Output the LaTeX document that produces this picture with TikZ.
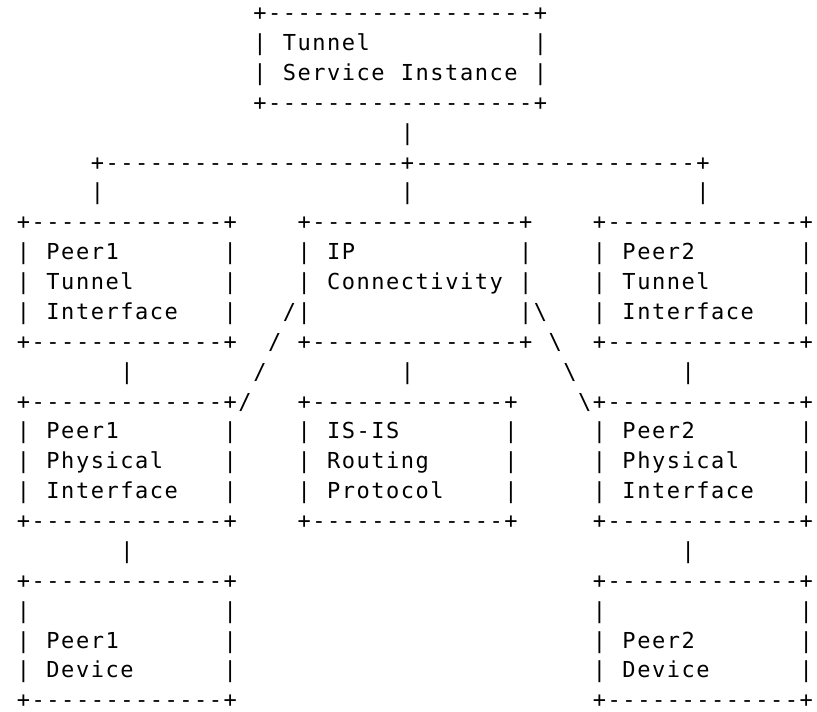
\documentclass[tikz,border=0pt]{standalone}
\usepackage{fontspec}
\newfontfamily\ascfont{DejaVu Sans Mono}
\newlength\ascw
\setlength\ascw{14.77pt}
\def\ascstop{\ascstop}
\def\ascB#1{\ifx#1.\else\ifx#1!\textbackslash\else#1\fi\fi}
\def\ascA#1{\ifx#1\ascstop\else\hbox to\ascw{\hss\ascB#1\hss}\expandafter\ascA\fi}
\newcommand\asc[1]{\hbox{\ascA#1\ascstop}}
\newcommand\ascrows[1]{\vtop{\baselineskip=29.88pt\lineskiplimit=-1000pt\lineskip=0pt #1}}
\tikzset{asc/.style={inner sep=0pt,outer sep=0pt,anchor=base west,text=black,
  font=\ascfont\fontsize{22pt}{29.88pt}\selectfont}}
\begin{document}
\begin{tikzpicture}[x=14.77pt,y=-29.88pt]
\fill[white] (0pt,0pt) rectangle (817pt,-712pt);
\useasboundingbox (0pt,0pt) rectangle (817pt,-712pt);
\begin{scope}[shift={(1.4pt,-20.6pt)}]
% top box
\node[asc] (tsi) at (17,0) {\ascrows{
\asc{+------------------+}
\asc{|.Tunnel...........|}
\asc{|.Service.Instance.|}
\asc{+------------------+}}};
\node[asc] (c0) at (27,4) {\asc{|}};
\node[asc] (br) at (6,5) {\asc{+--------------------+-------------------+}};
\node[asc] (c1) at (6,6) {\asc{|}};
\node[asc] (c2) at (27,6) {\asc{|}};
\node[asc] (c3) at (47,6) {\asc{|}};
% second row of boxes
\node[asc] (p1t) at (1,7) {\ascrows{
\asc{+-------------+}
\asc{|.Peer1.......|}
\asc{|.Tunnel......|}
\asc{|.Interface...|}
\asc{+-------------+}}};
\node[asc] (ip) at (20,7) {\ascrows{
\asc{+--------------+}
\asc{|.IP...........|}
\asc{|.Connectivity.|}
\asc{|..............|}
\asc{+--------------+}}};
\node[asc] (p2t) at (40,7) {\ascrows{
\asc{+-------------+}
\asc{|.Peer2.......|}
\asc{|.Tunnel......|}
\asc{|.Interface...|}
\asc{+-------------+}}};
% diagonal links
\node[asc] (s1) at (19,10) {\asc{/}};
\node[asc] (s2) at (18,11) {\asc{/}};
\node[asc] (s3) at (17,12) {\asc{/}};
\node[asc] (s4) at (16,13) {\asc{/}};
\node[asc] (b1) at (36,10) {\asc{!}};
\node[asc] (b2) at (37,11) {\asc{!}};
\node[asc] (b3) at (38,12) {\asc{!}};
\node[asc] (b4) at (39,13) {\asc{!}};
% vertical links
\node[asc] (c4) at (8,12) {\asc{|}};
\node[asc] (c5) at (27,12) {\asc{|}};
\node[asc] (c6) at (46,12) {\asc{|}};
% third row of boxes
\node[asc] (p1p) at (1,13) {\ascrows{
\asc{+-------------+}
\asc{|.Peer1.......|}
\asc{|.Physical....|}
\asc{|.Interface...|}
\asc{+-------------+}}};
\node[asc] (isis) at (20,13) {\ascrows{
\asc{+-------------+}
\asc{|.IS-IS.......|}
\asc{|.Routing.....|}
\asc{|.Protocol....|}
\asc{+-------------+}}};
\node[asc] (p2p) at (40,13) {\ascrows{
\asc{+-------------+}
\asc{|.Peer2.......|}
\asc{|.Physical....|}
\asc{|.Interface...|}
\asc{+-------------+}}};
\node[asc] (c7) at (8,18) {\asc{|}};
\node[asc] (c8) at (46,18) {\asc{|}};
% devices
\node[asc] (p1d) at (1,19) {\ascrows{
\asc{+-------------+}
\asc{|.............|}
\asc{|.Peer1.......|}
\asc{|.Device......|}
\asc{+-------------+}}};
\node[asc] (p2d) at (40,19) {\ascrows{
\asc{+-------------+}
\asc{|.............|}
\asc{|.Peer2.......|}
\asc{|.Device......|}
\asc{+-------------+}}};
\end{scope}
\end{tikzpicture}
\end{document}
